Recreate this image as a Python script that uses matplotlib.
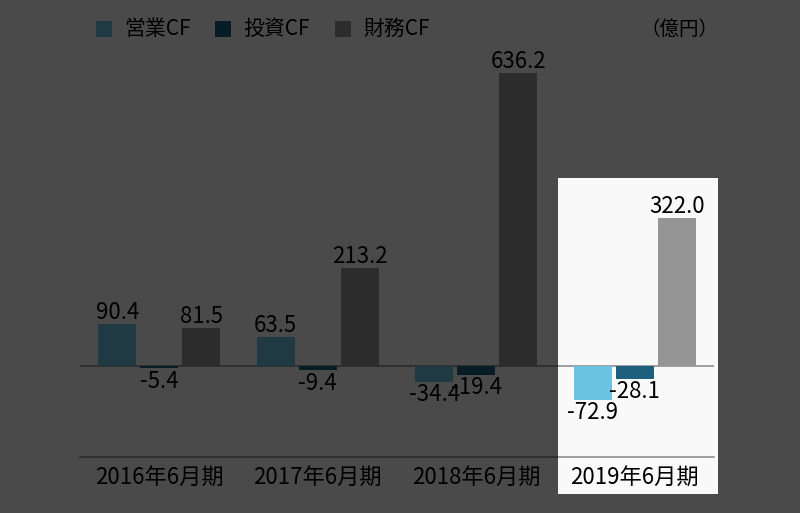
import matplotlib.pyplot as plt
from matplotlib.patches import Rectangle
from matplotlib.transforms import blended_transform_factory

plt.rcParams['font.family'] = ['Noto Sans CJK JP', 'DejaVu Sans']

# data (億円)
periods = ['2016年6月期', '2017年6月期', '2018年6月期', '2019年6月期']
series_names = ['営業CF', '投資CF', '財務CF']
operating_cf = [90.4, 63.5, -34.4, -72.9]
investing_cf = [-5.4, -9.4, -19.4, -28.1]
financing_cf = [81.5, 213.2, 636.2, 322.0]
unit_label = '（億円）'

colors = ['#6ac3e0', '#1e5f7e', '#959595']

W, H = 800, 513
fig = plt.figure(figsize=(W / 100, H / 100), dpi=100)
fig.patch.set_facecolor('#f9f9f9')

ax = fig.add_axes([80 / W, 1 - 457 / H, 634 / W, (457 - 60) / H])
ax.set_facecolor('none')

offsets = [-0.265, 0.0, 0.265]
width = 0.24
for k, vals in enumerate([operating_cf, investing_cf, financing_cf]):
    xs = [i + offsets[k] for i in range(len(periods))]
    ax.bar(xs, vals, width=width, color=colors[k], zorder=2)
    for x, v in zip(xs, vals):
        if v >= 0:
            ax.annotate(f'{v:.1f}', (x, v), xytext=(0, 0), textcoords='offset points',
                        ha='center', va='bottom', fontsize=16, color='black', zorder=3)
        else:
            ax.annotate(f'{v:.1f}', (x, v), xytext=(0, -1), textcoords='offset points',
                        ha='center', va='top', fontsize=16, color='black', zorder=3)

ax.axhline(0, color='#909090', lw=1.2, zorder=1)
ax.set_xlim(-0.5, 3.5)
ax.set_ylim(-197.6, 664)
for s in ['top', 'left', 'right']:
    ax.spines[s].set_visible(False)
ax.spines['bottom'].set_color('#909090')
ax.spines['bottom'].set_linewidth(1.2)
ax.set_xticks([])
ax.set_yticks([])

trans = blended_transform_factory(ax.transData, fig.transFigure)
for i, p in enumerate(periods):
    ax.text(i, 1 - 477 / H, p, transform=trans, ha='center', va='center',
            fontsize=16, color='black')

# legend
legend_x = [96, 215, 335]
for x, name, c in zip(legend_x, series_names, colors):
    fig.add_artist(Rectangle((x / W, 1 - 37 / H), 16 / W, 16 / H,
                             transform=fig.transFigure, facecolor=c, edgecolor='none'))
    fig.text((x + 28) / W, 1 - 29 / H, name, ha='left', va='center', fontsize=15)
fig.text(718 / W, 1 - 29 / H, unit_label, ha='right', va='center', fontsize=14)

# dim overlay except the highlighted period
bx0, bx1, by0, by1 = 558, 718, 178, 494
overlay = dict(transform=fig.transFigure, facecolor='black', alpha=0.703,
               edgecolor='none', zorder=10)
fig.add_artist(Rectangle((0, 0), bx0 / W, 1, **overlay))
fig.add_artist(Rectangle((bx1 / W, 0), 1 - bx1 / W, 1, **overlay))
fig.add_artist(Rectangle((bx0 / W, 0), (bx1 - bx0) / W, 1 - by1 / H, **overlay))
fig.add_artist(Rectangle((bx0 / W, 1 - by0 / H), (bx1 - bx0) / W, by0 / H, **overlay))

fig.savefig('out.png', dpi=100, facecolor=fig.get_facecolor())
